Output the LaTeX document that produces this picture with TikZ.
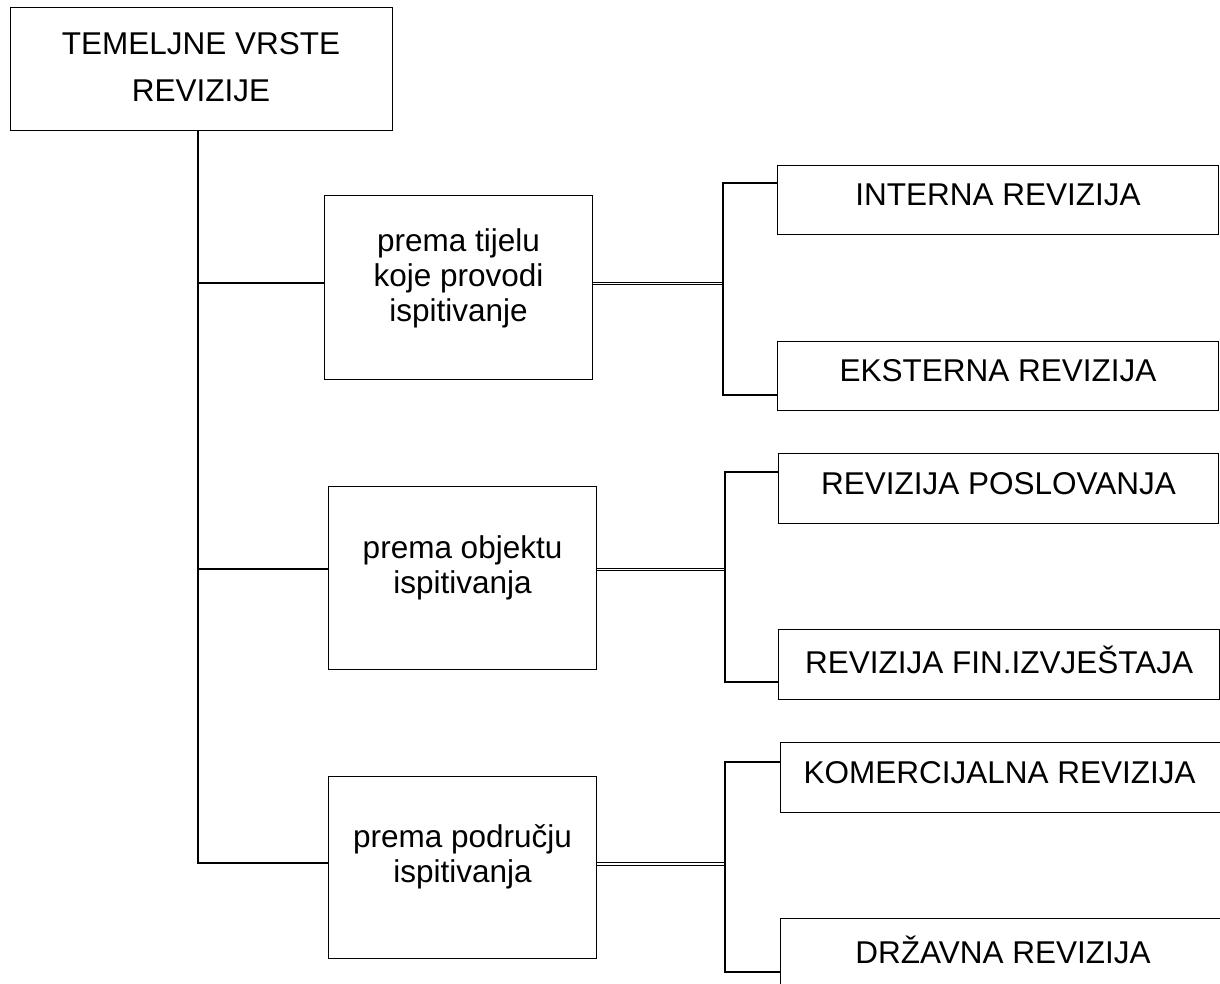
\documentclass[tikz,border=0pt]{standalone}
\usepackage{fontspec}
\setmainfont{Liberation Sans}
\begin{document}
\begin{tikzpicture}[x=1pt,y=-1pt,
  box/.style={draw, line width=1.1pt, rectangle, inner sep=0pt, anchor=north west},
  lbl/.style={font=\fontsize{31.5}{35}\selectfont, align=center, inner sep=0pt},
  ln/.style={line width=1.1pt},
  dbl/.style={draw, double, line width=0.9pt, double distance=1.6pt}]
\clip (0,0) rectangle (1220,984);
\fill[white] (0,0) rectangle (1220,984);
% boxes
\node[box, minimum width=382pt, minimum height=123pt] (top) at (10,7) {};
\node[box, minimum width=268pt, minimum height=184pt] (b1) at (324,195) {};
\node[box, minimum width=268pt, minimum height=183pt] (b2) at (328,486) {};
\node[box, minimum width=268pt, minimum height=182pt] (b3) at (328,776) {};
\node[box, minimum width=441pt, minimum height=69pt] (r1) at (777,165) {};
\node[box, minimum width=441pt, minimum height=69pt] (r2) at (777,341) {};
\node[box, minimum width=440pt, minimum height=70pt] (r3) at (778,453) {};
\node[box, minimum width=441pt, minimum height=70pt] (r4) at (778,629) {};
\node[box, minimum width=470pt, minimum height=70pt] (r5) at (780,742) {};
\node[box, minimum width=470pt, minimum height=70pt] (r6) at (780,918) {};
% texts
\node[lbl, font=\fontsize{31.5}{47}\selectfont] (ttop) at (201,67) {TEMELJNE VRSTE\\REVIZIJE};
\node[lbl, yshift=9pt] (t1) at (b1.center) {prema tijelu\\koje provodi\\ispitivanje};
\node[lbl, yshift=10pt] (t2) at (b2.center) {prema objektu\\ispitivanja};
\node[lbl, yshift=11pt] (t3) at (b3.center) {prema području\\ispitivanja};
\node[lbl, yshift=5pt] (tr1) at (r1.center) {INTERNA REVIZIJA};
\node[lbl, yshift=5pt] (tr2) at (r2.center) {EKSTERNA REVIZIJA};
\node[lbl, yshift=5pt] (tr3) at (r3.center) {REVIZIJA POSLOVANJA};
\node[lbl, yshift=5pt] (tr4) at (r4.center) {REVIZIJA FIN.IZVJEŠTAJA};
\node[lbl, yshift=5pt, xshift=-16pt] (tr5) at (r5.center) {KOMERCIJALNA REVIZIJA};
\node[lbl] (tr6) at (1003,950) {DRŽAVNA REVIZIJA};
% trunk
\coordinate (s1) at (198,283);
\coordinate (s2) at (198,569);
\coordinate (s3) at (198,863);
\draw[ln] (top.south -| s1) -- (s3) -- (s3 -| b3.west);
\draw[ln] (s1) -- (s1 -| b1.west);
\draw[ln] (s2) -- (s2 -| b2.west);
% group joints
\coordinate (m1) at (723,283.5);
\coordinate (m2) at (725,569.5);
\coordinate (m3) at (725,864);
\coordinate (g1t) at (723,183);
\coordinate (g1b) at (723,395);
\coordinate (g2t) at (725,472);
\coordinate (g2b) at (725,682);
\coordinate (g3t) at (725,762);
\coordinate (g3b) at (725,972);
\draw[dbl] (m1 -| b1.east) -- (m1);
\draw[dbl] (m2 -| b2.east) -- (m2);
\draw[dbl] (m3 -| b3.east) -- (m3);
\draw[ln] (g1t -| r1.west) -- (g1t) -- (g1b) -- (g1b -| r2.west);
\draw[ln] (g2t -| r3.west) -- (g2t) -- (g2b) -- (g2b -| r4.west);
\draw[ln] (g3t -| r5.west) -- (g3t) -- (g3b) -- (g3b -| r6.west);
\end{tikzpicture}
\end{document}
